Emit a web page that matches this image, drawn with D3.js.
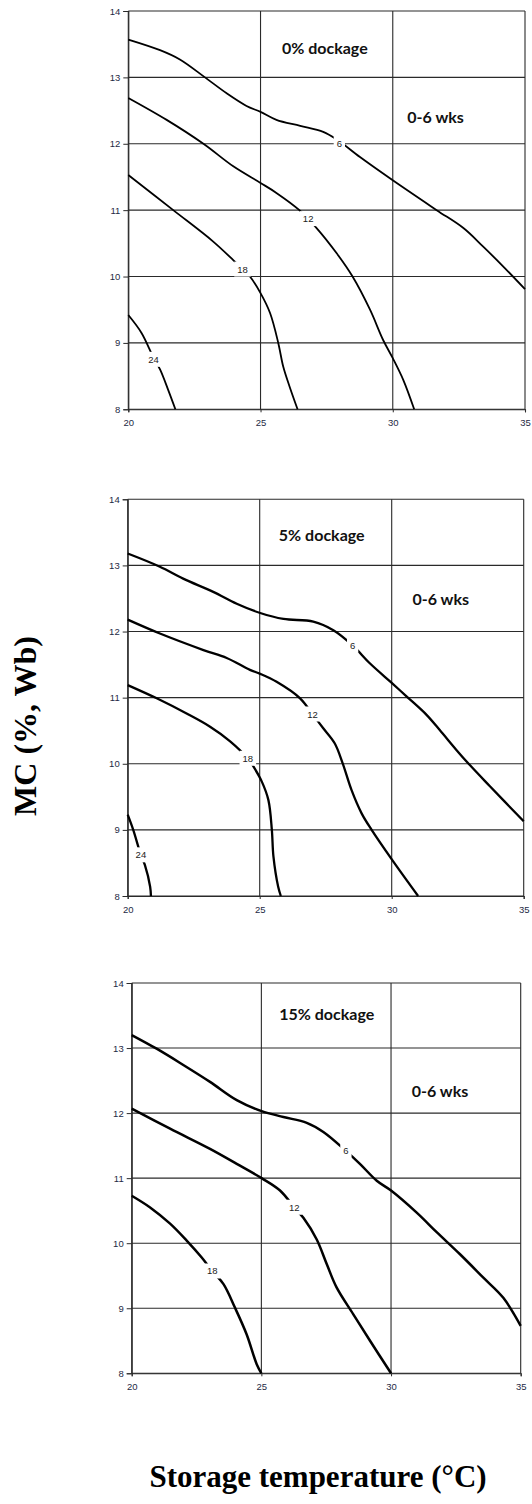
<!DOCTYPE html>
<html>
<head>
<meta charset="utf-8">
<script src="https://cdn.jsdelivr.net/npm/d3@7"></script>
<style>
  body { margin: 0; background: #fff; }
  svg { display: block; }
</style>
</head>
<body>
<svg width="532" height="1504"></svg>
<script>
// axis values
const xTicks = [20, 25, 30, 35];
const yTicks = [8, 9, 10, 11, 12, 13, 14];
const weeks = [6, 12, 18, 24];
const titles = ["0% dockage", "5% dockage", "15% dockage"];
const periodLabel = "0-6 wks";

// contour lines: [temperature, MC]
const dock0_6 = [[20, 13.57], [21.2, 13.41], [21.95, 13.27], [22.9, 13.0], [23.72, 12.76], [24.47, 12.57], [25, 12.48], [25.6, 12.36], [26.5, 12.27], [27.37, 12.18], [27.9, 12.06], [28.76, 11.8], [30, 11.45], [31.66, 11.0], [32.67, 10.73], [33.42, 10.45], [34.18, 10.15], [35, 9.81]];
const dock0_12 = [[20, 12.69], [21.45, 12.36], [22.84, 12.0], [23.97, 11.66], [25, 11.41], [25.6, 11.26], [26.47, 11.0], [27.12, 10.73], [27.88, 10.35], [28.48, 10.0], [29.14, 9.5], [29.64, 9.04], [30, 8.77], [30.4, 8.44], [30.81, 8.0]];
const dock0_18 = [[20, 11.53], [21.7, 11.0], [23.2, 10.53], [24.04, 10.22], [24.6, 10.0], [25, 9.75], [25.36, 9.45], [25.67, 9.0], [25.86, 8.64], [26.1, 8.34], [26.4, 8.0]];
const dock0_24 = [[20, 9.42], [20.5, 9.15], [20.95, 8.78], [21.2, 8.6], [21.5, 8.3], [21.78, 8.0]];

const dock5_6 = [[20, 13.18], [21.22, 12.98], [22.1, 12.8], [23.24, 12.6], [24.13, 12.42], [25.02, 12.28], [25.9, 12.19], [27.03, 12.15], [27.79, 12.02], [28.52, 11.79], [29.17, 11.52], [30.01, 11.22], [30.56, 11.02], [31.32, 10.74], [31.82, 10.51], [32.45, 10.21], [32.96, 9.98], [33.72, 9.66], [35, 9.13]];
const dock5_12 = [[20, 12.18], [21.22, 11.97], [22.87, 11.72], [23.75, 11.6], [24.63, 11.42], [25.02, 11.36], [25.64, 11.24], [26.53, 10.99], [27.0, 10.75], [27.4, 10.54], [27.84, 10.31], [28.14, 10.01], [28.48, 9.6], [28.86, 9.25], [29.24, 9.0], [30.01, 8.55], [31.0, 8.0]];
const dock5_18 = [[20, 11.19], [21.1, 10.99], [22.23, 10.76], [23.12, 10.56], [23.88, 10.34], [24.55, 10.08], [24.76, 9.96], [25.08, 9.73], [25.33, 9.45], [25.46, 9.0], [25.52, 8.6], [25.7, 8.14], [25.8, 8.0]];
const dock5_24 = [[20, 9.23], [20.21, 9.0], [20.5, 8.62], [20.65, 8.47], [20.85, 8.14], [20.88, 8.0]];

const dock15_6 = [[20, 13.2], [20.96, 12.99], [21.99, 12.74], [23.02, 12.48], [24.05, 12.2], [25.01, 12.03], [25.85, 11.94], [26.75, 11.85], [27.39, 11.71], [28.26, 11.42], [28.8, 11.22], [29.45, 10.96], [30.0, 10.81], [30.99, 10.47], [31.76, 10.17], [32.66, 9.83], [33.56, 9.47], [34.33, 9.16], [35, 8.73]];
const dock15_12 = [[20, 12.07], [21.48, 11.76], [23.02, 11.45], [24.05, 11.22], [25.01, 11.0], [25.72, 10.81], [26.27, 10.55], [26.62, 10.39], [27.13, 10.06], [27.52, 9.68], [27.9, 9.32], [28.54, 8.91], [29.19, 8.5], [30, 8.0]];
const dock15_18 = [[20, 10.73], [20.71, 10.55], [21.48, 10.3], [22.12, 10.04], [22.7, 9.78], [23.11, 9.57], [23.54, 9.37], [23.98, 9.01], [24.43, 8.6], [24.82, 8.14], [25, 8.0]];

// where the week number sits on each line
const dock0_labels = [[27.98, 12.0], [26.8, 10.87], [24.32, 10.11], [20.95, 8.75]];
const dock5_labels = [[28.52, 11.79], [27.0, 10.75], [24.55, 10.08], [20.5, 8.62]];
const dock15_labels = [[28.26, 11.42], [26.27, 10.55], [23.11, 9.57]];

// annotation positions in data units [T, MC]
const titlePos = [[27.43, 13.44], [27.35, 13.46], [27.52, 13.51]];
const periodPos = [[31.62, 12.4], [31.86, 12.48], [31.89, 12.34]];

const panels = [
  { lines: [dock0_6, dock0_12, dock0_18, dock0_24], labels: dock0_labels, box: [128.3, 525, 11, 409.3], sw: 1.8 },
  { lines: [dock5_6, dock5_12, dock5_18, dock5_24], labels: dock5_labels, box: [127.7, 523.7, 499.3, 896], sw: 2.3 },
  { lines: [dock15_6, dock15_12, dock15_18], labels: dock15_labels, box: [131.7, 520.7, 983, 1373.3], sw: 2.5 }
];

const svg = d3.select("svg");
const gridColor = "#2a2a2a";
const tickColor = "#1e2a44";

panels.forEach((p, i) => {
  const [x0, x1, y0, y1] = p.box;
  const x = d3.scaleLinear().domain([20, 35]).range([x0, x1]);
  const y = d3.scaleLinear().domain([8, 14]).range([y1, y0]);
  const g = svg.append("g");

  // grid
  g.append("g")
    .selectAll("line")
    .data(yTicks)
    .join("line")
    .attr("x1", x0).attr("x2", x1)
    .attr("y1", (d) => y(d)).attr("y2", (d) => y(d))
    .attr("stroke", gridColor).attr("stroke-width", 1.1);
  g.append("g")
    .selectAll("line")
    .data(xTicks)
    .join("line")
    .attr("x1", (d) => x(d)).attr("x2", (d) => x(d))
    .attr("y1", y0).attr("y2", y1)
    .attr("stroke", gridColor).attr("stroke-width", 1.1);

  // axes
  const yAxis = g.append("g")
    .attr("transform", `translate(${x0},0)`)
    .call(d3.axisLeft(y).tickValues(yTicks).tickFormat(d3.format("d")).tickSize(5).tickPadding(3));
  const xAxis = g.append("g")
    .attr("transform", `translate(0,${y1})`)
    .call(d3.axisBottom(x).tickValues(xTicks).tickFormat(d3.format("d")).tickSize(3).tickPadding(7));
  [yAxis, xAxis].forEach((a) => {
    a.select(".domain").attr("stroke", gridColor).attr("stroke-width", 1.1);
    a.selectAll(".tick line").attr("stroke", gridColor);
    a.selectAll("text")
      .attr("fill", tickColor)
      .style("font-family", "'Liberation Sans', Arial, sans-serif")
      .style("font-size", "9.5px");
  });

  // contour lines
  const line = d3.line()
    .x((d) => x(d[0]))
    .y((d) => y(d[1]))
    .curve(d3.curveCatmullRom.alpha(0.5));
  g.append("g")
    .selectAll("path")
    .data(p.lines)
    .join("path")
    .attr("d", line)
    .attr("fill", "none")
    .attr("stroke", "#000")
    .attr("stroke-width", p.sw)
    .attr("stroke-linejoin", "round");

  // week labels with a white gap under them
  const lab = g.append("g")
    .selectAll("g")
    .data(p.labels)
    .join("g")
    .attr("transform", (d) => `translate(${x(d[0])},${y(d[1])})`);
  lab.append("rect")
    .attr("fill", "#fff");
  lab.append("text")
    .text((d, j) => weeks[j])
    .attr("text-anchor", "middle")
    .attr("dy", "0.35em")
    .attr("fill", "#222")
    .style("font-family", "'Liberation Sans', Arial, sans-serif")
    .style("font-size", "9.5px");
  lab.each(function () {
    const t = d3.select(this).select("text").node().getBBox();
    d3.select(this).select("rect")
      .attr("x", t.x - 3).attr("y", t.y - 2)
      .attr("width", t.width + 6).attr("height", t.height + 4);
  });

  // annotations
  g.append("text")
    .attr("x", x(titlePos[i][0])).attr("y", y(titlePos[i][1]))
    .attr("text-anchor", "middle").attr("dy", "0.35em")
    .style("font-family", "Lato, 'Open Sans', sans-serif")
    .style("font-weight", "bold").style("font-size", "16px")
    .attr("fill", "#111")
    .text(titles[i]);
  g.append("text")
    .attr("x", x(periodPos[i][0])).attr("y", y(periodPos[i][1]))
    .attr("text-anchor", "middle").attr("dy", "0.35em")
    .style("font-family", "Lato, 'Open Sans', sans-serif")
    .style("font-weight", "bold").style("font-size", "16px")
    .attr("fill", "#111")
    .text(periodLabel);
});

// axis titles
svg.append("text")
  .attr("transform", "translate(36,726) rotate(-90)")
  .attr("text-anchor", "middle")
  .style("font-family", "'Liberation Serif', 'Times New Roman', serif")
  .style("font-weight", "bold").style("font-size", "32px")
  .text("MC (%, Wb)");

svg.append("text")
  .attr("x", 318).attr("y", 1487)
  .attr("text-anchor", "middle")
  .style("font-family", "'Liberation Serif', 'Times New Roman', serif")
  .style("font-weight", "bold").style("font-size", "31px")
  .text("Storage temperature (°C)");
</script>
</body>
</html>
